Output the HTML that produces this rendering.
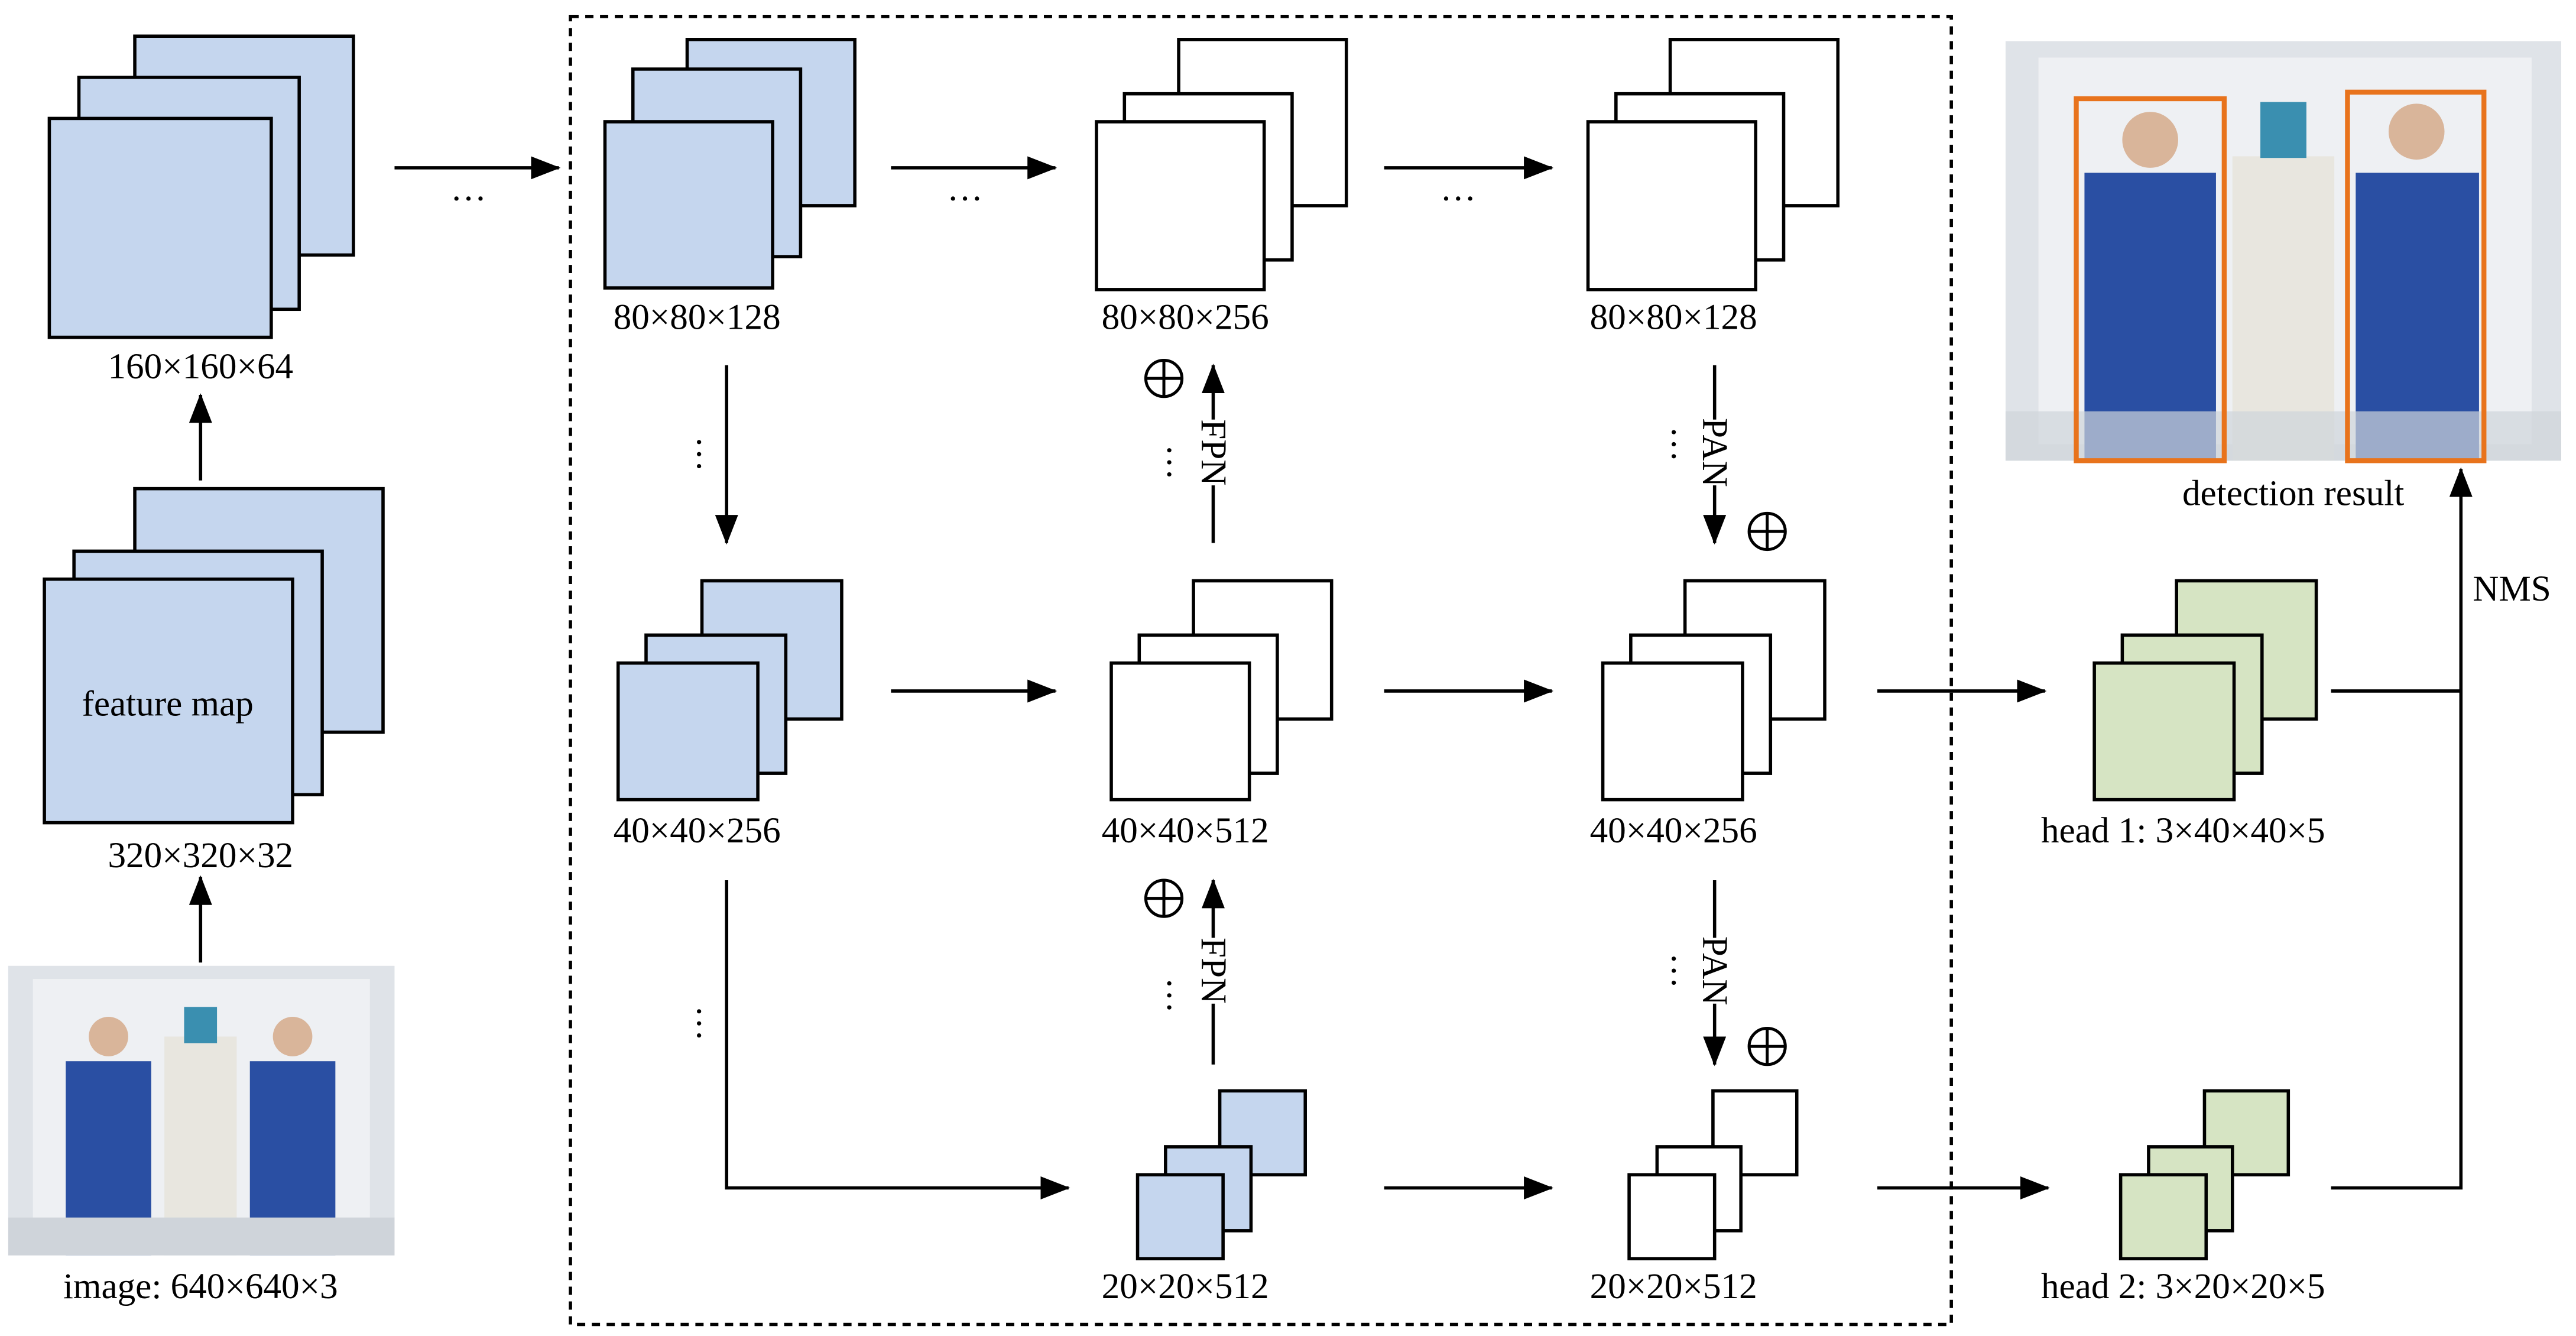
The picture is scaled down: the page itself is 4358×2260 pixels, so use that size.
<!DOCTYPE html>
<html><head><meta charset="utf-8"><style>
html,body{margin:0;padding:0;background:#fff;}
svg{display:block;}
text{font-family:"Liberation Serif",serif;font-size:22px;fill:#000;}
</style></head><body>
<svg width="4358" height="2260" viewBox="0 0 1567 812" preserveAspectRatio="none" xmlns="http://www.w3.org/2000/svg">
<defs>
<marker id="b" markerWidth="18" markerHeight="14" refX="17" refY="7" orient="auto" markerUnits="userSpaceOnUse" viewBox="0 0 18 14"><path d="M0,0 L18,7 L0,14 z" fill="#000"/></marker>
</defs>
<g stroke="#000" stroke-width="2">
<g fill="#c5d6ee">
<rect x="82" y="22" width="133" height="133"/><rect x="48" y="47" width="134" height="141"/><rect x="30" y="72" width="135" height="133"/>
<rect x="82" y="297" width="151" height="148"/><rect x="45" y="335" width="151" height="148"/><rect x="27" y="352" width="151" height="148"/>
<rect x="418" y="24" width="102" height="101"/><rect x="385" y="42" width="102" height="114"/><rect x="368" y="74" width="102" height="101"/>
<rect x="427" y="353" width="85" height="84"/><rect x="393" y="386" width="85" height="84"/><rect x="376" y="403" width="85" height="83"/>
<rect x="742" y="663" width="52" height="51"/><rect x="709" y="697" width="52" height="51"/><rect x="692" y="714" width="52" height="51"/>
</g>
<g fill="#fff">
<rect x="717" y="24" width="102" height="101"/><rect x="684" y="57" width="102" height="101"/><rect x="667" y="74" width="102" height="102"/>
<rect x="726" y="353" width="84" height="84"/><rect x="693" y="386" width="84" height="84"/><rect x="676" y="403" width="84" height="83"/>
<rect x="1016" y="24" width="102" height="101"/><rect x="983" y="57" width="102" height="101"/><rect x="966" y="74" width="102" height="102"/>
<rect x="1025" y="353" width="85" height="84"/><rect x="992" y="386" width="85" height="84"/><rect x="975" y="403" width="85" height="83"/>
<rect x="1042" y="663" width="51" height="51"/><rect x="1008" y="697" width="51" height="51"/><rect x="991" y="714" width="52" height="51"/>
</g>
<g fill="#d6e4c3">
<rect x="1324" y="353" width="85" height="84"/><rect x="1291" y="386" width="85" height="84"/><rect x="1274" y="403" width="85" height="83"/>
<rect x="1341" y="663" width="51" height="51"/><rect x="1307" y="697" width="51" height="51"/><rect x="1290" y="714" width="52" height="51"/>
</g>
<rect x="347" y="10" width="840" height="795" fill="none" stroke-dasharray="5,4"/>
<g marker-end="url(#b)" fill="none">
<line x1="122" y1="292" x2="122" y2="240"/>
<line x1="122" y1="585" x2="122" y2="533"/>
<line x1="240" y1="102" x2="340" y2="102"/>
<line x1="542" y1="102" x2="642" y2="102"/>
<line x1="842" y1="102" x2="944" y2="102"/>
<line x1="442" y1="222" x2="442" y2="330"/>
<line x1="542" y1="420" x2="642" y2="420"/>
<line x1="842" y1="420" x2="944" y2="420"/>
<line x1="1142" y1="420" x2="1244" y2="420"/>
<polyline points="442,535 442,722 650,722"/>
<line x1="842" y1="722" x2="944" y2="722"/>
<line x1="1142" y1="722" x2="1246" y2="722"/>
<line x1="738" y1="330" x2="738" y2="222"/>
<line x1="738" y1="647" x2="738" y2="535"/>
<line x1="1043" y1="222" x2="1043" y2="330"/>
<line x1="1043" y1="535" x2="1043" y2="647"/>
<polyline points="1418,722 1497,722 1497,285"/>
</g>
<line x1="1418" y1="420" x2="1497" y2="420"/>
</g>
<g>
<rect x="728" y="255" width="20" height="40" fill="#fff"/><text transform="translate(731,275) rotate(90)" text-anchor="middle" font-size="18">FPN</text>
<rect x="728" y="570" width="20" height="40" fill="#fff"/><text transform="translate(731,590) rotate(90)" text-anchor="middle" font-size="18">FPN</text>
<rect x="1033" y="255" width="20" height="40" fill="#fff"/><text transform="translate(1036,275) rotate(90)" text-anchor="middle" font-size="18">PAN</text>
<rect x="1033" y="570" width="20" height="40" fill="#fff"/><text transform="translate(1036,590) rotate(90)" text-anchor="middle" font-size="18">PAN</text>
</g>
<g stroke="#000" stroke-width="1.8" fill="none">
<circle cx="708" cy="230" r="11"/><path d="M697,230h22M708,219v22"/>
<circle cx="708" cy="546" r="11"/><path d="M697,546h22M708,535v22"/>
<circle cx="1075" cy="323" r="11"/><path d="M1064,323h22M1075,312v22"/>
<circle cx="1075" cy="636" r="11"/><path d="M1064,636h22M1075,625v22"/>
</g>
<g text-anchor="middle">
<text x="285" y="128">···</text><text x="587" y="128">···</text><text x="887" y="128">···</text>
<text transform="translate(418,276) rotate(90)">···</text>
<text transform="translate(418,622) rotate(90)">···</text>
<text transform="translate(704,281) rotate(90)">···</text>
<text transform="translate(704,605) rotate(90)">···</text>
<text transform="translate(1011,270) rotate(90)">···</text>
<text transform="translate(1011,590) rotate(90)">···</text>
<text x="122" y="230">160×160×64</text>
<text x="102" y="435">feature map</text>
<text x="122" y="527">320×320×32</text>
<text x="122" y="789">image: 640×640×3</text>
<text x="424" y="200">80×80×128</text>
<text x="721" y="200">80×80×256</text>
<text x="1018" y="200">80×80×128</text>
<text x="424" y="512">40×40×256</text>
<text x="721" y="512">40×40×512</text>
<text x="1018" y="512">40×40×256</text>
<text x="721" y="789">20×20×512</text>
<text x="1018" y="789">20×20×512</text>
<text x="1328" y="512">head 1: 3×40×40×5</text>
<text x="1328" y="789">head 2: 3×20×20×5</text>
<text x="1395" y="307">detection result</text>
<text x="1528" y="365">NMS</text>
</g>
<g>
<rect x="5" y="587" width="235" height="176" fill="#dfe3e8"/>
<rect x="20" y="595" width="205" height="160" fill="#eef0f3"/>
<rect x="40" y="645" width="52" height="118" fill="#2a4fa3"/><circle cx="66" cy="630" r="12" fill="#d9b59a"/>
<rect x="152" y="645" width="52" height="118" fill="#2a4fa3"/><circle cx="178" cy="630" r="12" fill="#d9b59a"/>
<rect x="100" y="630" width="44" height="133" fill="#e8e6df"/><rect x="112" y="612" width="20" height="22" fill="#3a8fb0"/>
<rect x="5" y="740" width="235" height="23" fill="#cfd4da"/>
</g>
<g>
<rect x="1220" y="25" width="338" height="255" fill="#dfe3e8"/>
<rect x="1240" y="35" width="300" height="235" fill="#eef0f3"/>
<rect x="1268" y="105" width="80" height="175" fill="#2a4fa3"/><circle cx="1308" cy="85" r="17" fill="#d9b59a"/>
<rect x="1433" y="105" width="75" height="175" fill="#2a4fa3"/><circle cx="1470" cy="80" r="17" fill="#d9b59a"/>
<rect x="1358" y="95" width="62" height="185" fill="#e8e6df"/><rect x="1375" y="62" width="28" height="34" fill="#3a8fb0"/>
<rect x="1220" y="250" width="338" height="30" fill="#cfd4da" opacity="0.7"/>
<rect x="1263" y="60" width="90" height="220" fill="none" stroke="#e8731c" stroke-width="3"/>
<rect x="1428" y="56" width="83" height="224" fill="none" stroke="#e8731c" stroke-width="3"/>
</g>
</svg>
</body></html>
